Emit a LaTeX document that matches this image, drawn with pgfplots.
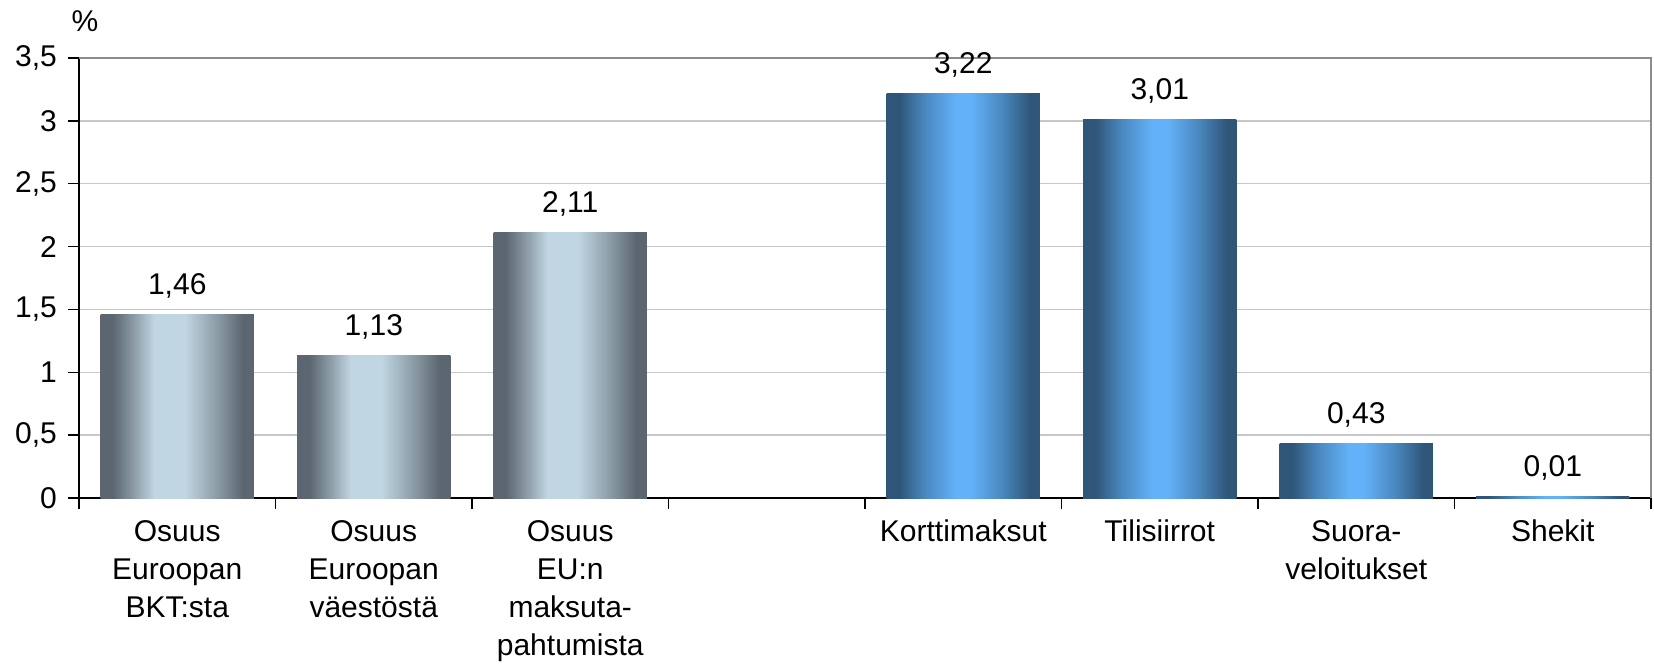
\documentclass[border=0pt]{standalone}
\usepackage{fontspec}
\setmainfont{Liberation Sans}
\usepackage{pgfplots}
\pgfplotsset{compat=1.18}
\definecolor{gdark}{HTML}{5B6670}
\definecolor{gmid}{HTML}{8E9EA8}
\definecolor{glight}{HTML}{C0D6E2}
\definecolor{bdark}{HTML}{2F5578}
\definecolor{bmid}{HTML}{4A88C0}
\definecolor{blight}{HTML}{63B1F8}
\definecolor{gridgray}{HTML}{C8C8C8}
\definecolor{framegray}{HTML}{8C8C8C}
\pgfdeclarehorizontalshading{grayshade}{100bp}{color(0bp)=(gdark); color(25bp)=(gdark); color(29bp)=(gdark); color(36bp)=(gmid); color(42.5bp)=(glight); color(52.5bp)=(glight); color(62.5bp)=(gmid); color(71.5bp)=(gdark); color(75bp)=(gdark); color(100bp)=(gdark)}
\pgfdeclarehorizontalshading{blueshade}{100bp}{color(0bp)=(bdark); color(25bp)=(bdark); color(29bp)=(bdark); color(37.5bp)=(bmid); color(47.5bp)=(blight); color(52.5bp)=(blight); color(62.5bp)=(bmid); color(72bp)=(bdark); color(75bp)=(bdark); color(100bp)=(bdark)}
\pgfplotsset{
  graybar/.style={ybar, bar width=0.78, bar shift=0pt, draw=none, shade, shading=grayshade},
  bluebar/.style={ybar, bar width=0.78, bar shift=0pt, draw=none, shade, shading=blueshade},
}
\begin{document}
\begin{tikzpicture}
\begin{axis}[
  at={(0,0)}, anchor=south west,
  scale only axis, width=786pt, height=220pt,
  xmin=-0.5, xmax=7.5, ymin=0, ymax=3.5,
  ytick={0,0.5,...,3.5},
  xtick={0,...,7},
  xticklabels={{Osuus\\Euroopan\\BKT:sta},{Osuus\\Euroopan\\väestöstä},{Osuus\\EU:n\\maksuta-\\pahtumista},{},{Korttimaksut},{Tilisiirrot},{Suora-\\veloitukset},{Shekit}},
  minor xtick={-0.5,0.5,...,7.5},
  major x tick style={draw=none},
  minor x tick style={black, line width=0.75pt},
  major y tick style={black, line width=0.75pt},
  tick align=outside,
  major tick length=5.5pt, minor tick length=5.5pt,
  axis lines*=left,
  axis line style={black, line width=0.9pt},
  ymajorgrids, grid style={gridgray, line width=0.75pt},
  /pgf/number format/assume math mode=true,
  /pgf/number format/use comma,
  tick label style={font=\fontsize{15}{19}\selectfont},
  xticklabel style={align=center, anchor=north, yshift=-2pt},
  yticklabel style={anchor=east, xshift=-2pt},
  nodes near coords,
  nodes near coords style={font=\fontsize{15}{17}\selectfont, anchor=base, yshift=10pt,
    /pgf/number format/.cd, fixed, fixed zerofill, precision=2, use comma, assume math mode=true},
  clip=false,
]
\addplot[graybar] coordinates {(0,1.46)};
\addplot[graybar] coordinates {(1,1.13)};
\addplot[graybar] coordinates {(2,2.11)};
\addplot[bluebar] coordinates {(4,3.22)};
\addplot[bluebar] coordinates {(5,3.01)};
\addplot[bluebar] coordinates {(6,0.43)};
\addplot[bluebar] coordinates {(7,0.01)};
\draw[framegray, line width=0.75pt] (rel axis cs:0,1) -- (rel axis cs:1,1) -- (rel axis cs:1,0);
\node[anchor=base, font=\fontsize{15}{17}\selectfont] at (rel axis cs:0,1) [xshift=3pt, yshift=13pt] {\%};
\end{axis}
\pgfresetboundingbox
\useasboundingbox (-39.5pt,-83pt) rectangle (787.5pt,249pt);
\end{tikzpicture}
\end{document}
